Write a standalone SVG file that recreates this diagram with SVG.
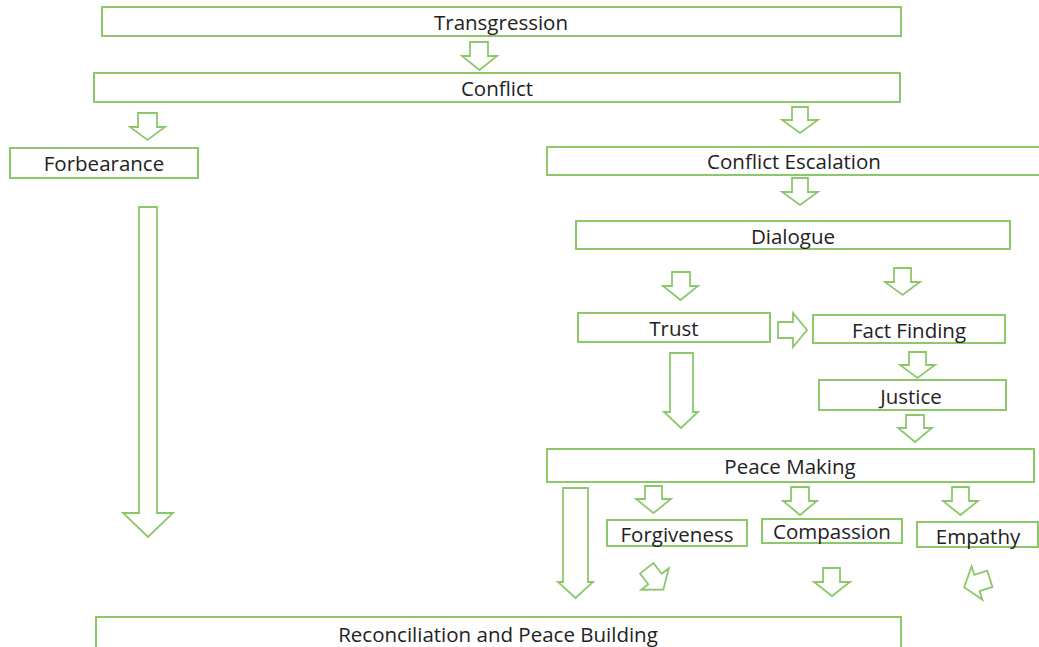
<svg xmlns="http://www.w3.org/2000/svg" width="1039" height="647" viewBox="0 0 1039 647">
<style>
.box{fill:#fff;stroke:#8cc86a;stroke-width:2}
.arr{fill:#fff;stroke:#8cc86a;stroke-width:1.8;stroke-linejoin:miter}
.lbl{font-family:"Open Sans","Liberation Sans",sans-serif;font-size:20.5px;fill:#222;text-anchor:middle;dominant-baseline:central}
</style>
<defs>
<polygon id="sa" class="arr" points="-8.5,-13.5 8.5,-13.5 8.5,0 17.5,0 0,13.5 -17.5,0 -8.5,0"/>
</defs>
<rect width="1039" height="647" fill="#fff"/>
<g id="connectors">
<polygon class="arr" points="470,42 488,42 488,56 497,56 479.5,70 462,56 470,56"/>
<polygon class="arr" points="138,113 157,113 157,127 165,127 147.5,140 130,127 138,127"/>
<polygon class="arr" points="792,107 808,107 808,120 818,120 800,133 782,120 792,120"/>
<polygon class="arr" points="792,178 808,178 808,192 818,192 800,205 782,192 792,192"/>
<polygon class="arr" points="672,272 690,272 690,286 698,286 680.5,300 663,286 672,286"/>
<polygon class="arr" points="894,268 911,268 911,282 920,282 902.5,295 885,282 894,282"/>
<polygon class="arr" points="778,322 793,322 793,313 807,330 793,347 793,338 778,338"/>
<polygon class="arr" points="670,353 693,353 693,412 698,412 681,428 664,412 670,412"/>
<polygon class="arr" points="909,352 926,352 926,365 935,365 917.5,378 900,365 909,365"/>
<polygon class="arr" points="906,415 924,415 924,428 932,428 915,442 898,428 906,428"/>
<polygon class="arr" points="563,488 588,488 588,582 593,582 575.5,598 558,582 563,582"/>
<polygon class="arr" points="645,486 662,486 662,499 671,499 653.5,513 636,499 645,499"/>
<polygon class="arr" points="791,487 809,487 809,501 817,501 800,515 783,501 791,501"/>
<polygon class="arr" points="952,487 969,487 969,501 978,501 960.5,515 943,501 952,501"/>
<polygon class="arr" points="823,568 840,568 840,582 850,582 832,596 814,582 823,582"/>
<polygon class="arr" points="139,207 157,207 157,513 173,513 148,537 123,513 139,513"/>
<use href="#sa" transform="translate(655,579) rotate(-38)"/>
<use href="#sa" transform="translate(977,583) rotate(72)"/>
</g>
<g id="transgression"><rect class="box" x="102" y="7" width="799" height="29"/><text class="lbl" x="501" y="22">Transgression</text></g>
<g id="conflict"><rect class="box" x="94" y="73" width="806" height="29"/><text class="lbl" x="497" y="88">Conflict</text></g>
<g id="forbearance"><rect class="box" x="10" y="148" width="188" height="30"/><text class="lbl" x="104" y="163">Forbearance</text></g>
<g id="conflict-escalation"><rect class="box" x="547" y="147" width="500" height="28"/><text class="lbl" x="794" y="161">Conflict Escalation</text></g>
<g id="dialogue"><rect class="box" x="576" y="221" width="434" height="28"/><text class="lbl" x="793" y="236">Dialogue</text></g>
<g id="trust"><rect class="box" x="578" y="313" width="192" height="29"/><text class="lbl" x="674" y="328">Trust</text></g>
<g id="fact-finding"><rect class="box" x="813" y="315" width="192" height="28"/><text class="lbl" x="909" y="330">Fact Finding</text></g>
<g id="justice"><rect class="box" x="819" y="380" width="187" height="30"/><text class="lbl" x="911" y="396">Justice</text></g>
<g id="peace-making"><rect class="box" x="547" y="449" width="487" height="33"/><text class="lbl" x="790" y="466">Peace Making</text></g>
<g id="forgiveness"><rect class="box" x="607" y="520" width="140" height="26"/><text class="lbl" x="677" y="534">Forgiveness</text></g>
<g id="compassion"><rect class="box" x="762" y="519" width="140" height="24"/><text class="lbl" x="832" y="531">Compassion</text></g>
<g id="empathy"><rect class="box" x="917" y="522" width="121" height="25"/><text class="lbl" x="978" y="536">Empathy</text></g>
<g id="reconciliation"><rect class="box" x="96" y="617" width="805" height="40"/><text class="lbl" x="498" y="634">Reconciliation and Peace Building</text></g>
</svg>
